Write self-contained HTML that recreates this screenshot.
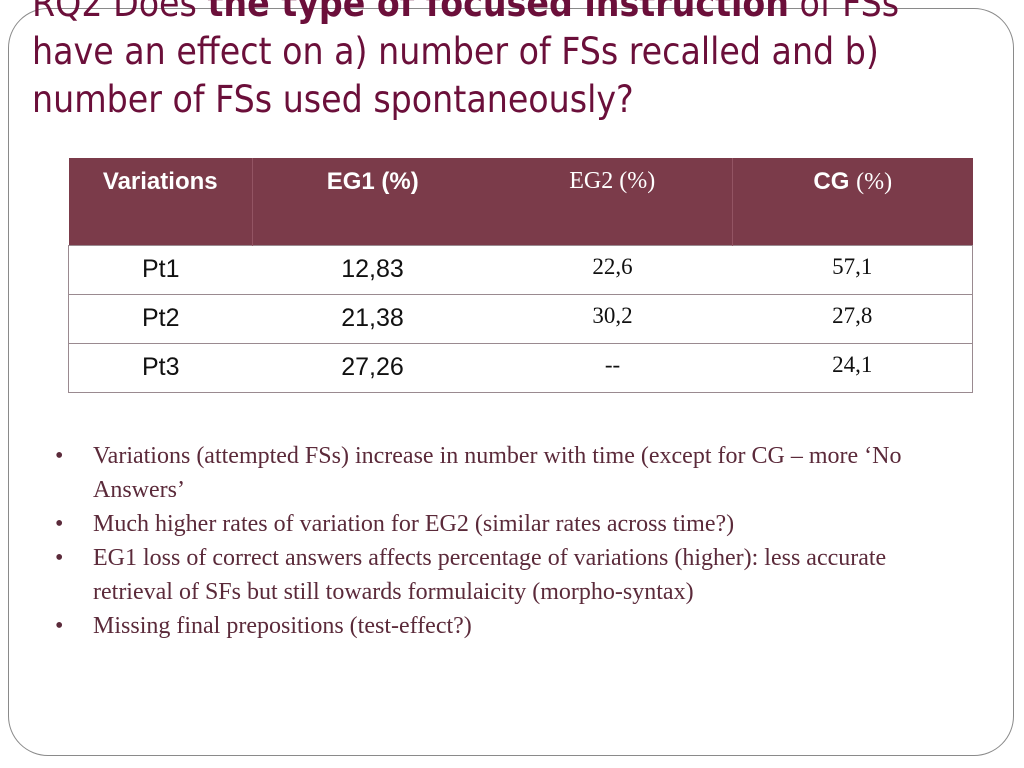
<!DOCTYPE html>
<html><head><meta charset="utf-8"><style>
body{margin:0;width:1024px;height:768px;background:#fff;position:relative;overflow:hidden;font-family:"Liberation Sans",sans-serif}
.frame{position:absolute;left:8px;top:8px;width:1006px;height:748px;border:1.5px solid #8a8a8a;border-radius:40px;box-sizing:border-box}
.title{position:absolute;left:32px;top:-20px;width:990px;white-space:nowrap;font-family:"DejaVu Sans Condensed","DejaVu Sans",sans-serif;font-size:37px;line-height:48px;color:#6b0f3a}
.title b{font-weight:bold}
table{position:absolute;left:68px;top:158px;width:904px;border-collapse:collapse;table-layout:fixed}
th{background:#7b3b4a;color:#fff;height:87px;vertical-align:top;padding-top:10px;font-size:24px;font-weight:bold;box-sizing:border-box}
th.s{font-family:"Liberation Serif",serif;font-weight:normal}
td{height:49px;text-align:center;font-size:25px;border:1px solid #9a8a90;border-left:none;border-right:none;box-sizing:border-box;color:#111}
td.s{font-family:"Liberation Serif",serif;font-size:23px;vertical-align:top;padding-top:8px}
tr td:first-child{border-left:1px solid #9a8a90}
tr td:last-child{border-right:1px solid #9a8a90}
ul{position:absolute;left:50px;top:439px;width:915px;margin:0;padding:0;list-style:none;font-family:"Liberation Serif",serif;font-size:24px;line-height:34px;color:#5b2a3a}
li{position:relative;padding-left:43px}
li:before{content:"•";position:absolute;left:5px;color:#5b2a3a}
</style></head><body>
<div class="frame"></div>
<div class="title">RQ2 Does <b>the type of focused instruction</b> of FSs<br>have an effect on a) number of FSs recalled and b)<br>number of FSs used spontaneously?</div>
<table>
<colgroup><col style="width:184px"><col style="width:240px"><col style="width:240px"><col style="width:240px"></colgroup>
<tr>
<th style="border-right:1px solid #935463">Variations</th>
<th>EG1 (%)</th>
<th class="s" style="border-right:1px solid #935463">EG2 (%)</th>
<th>CG <span style="font-family:'Liberation Serif',serif;font-weight:normal">(%)</span></th></tr>
<tr><td>Pt1</td><td>12,83</td><td class="s">22,6</td><td class="s">57,1</td></tr>
<tr><td>Pt2</td><td>21,38</td><td class="s">30,2</td><td class="s">27,8</td></tr>
<tr><td>Pt3</td><td>27,26</td><td class="s">--</td><td class="s">24,1</td></tr>
</table>
<ul>
<li>Variations (attempted FSs) increase in number with time (except for CG – more ‘No Answers’</li>
<li>Much higher rates of variation for EG2 (similar rates across time?)</li>
<li>EG1 loss of correct answers affects percentage of variations (higher): less accurate retrieval of SFs but still towards formulaicity (morpho-syntax)</li>
<li>Missing final prepositions (test-effect?)</li>
</ul>
</body></html>
